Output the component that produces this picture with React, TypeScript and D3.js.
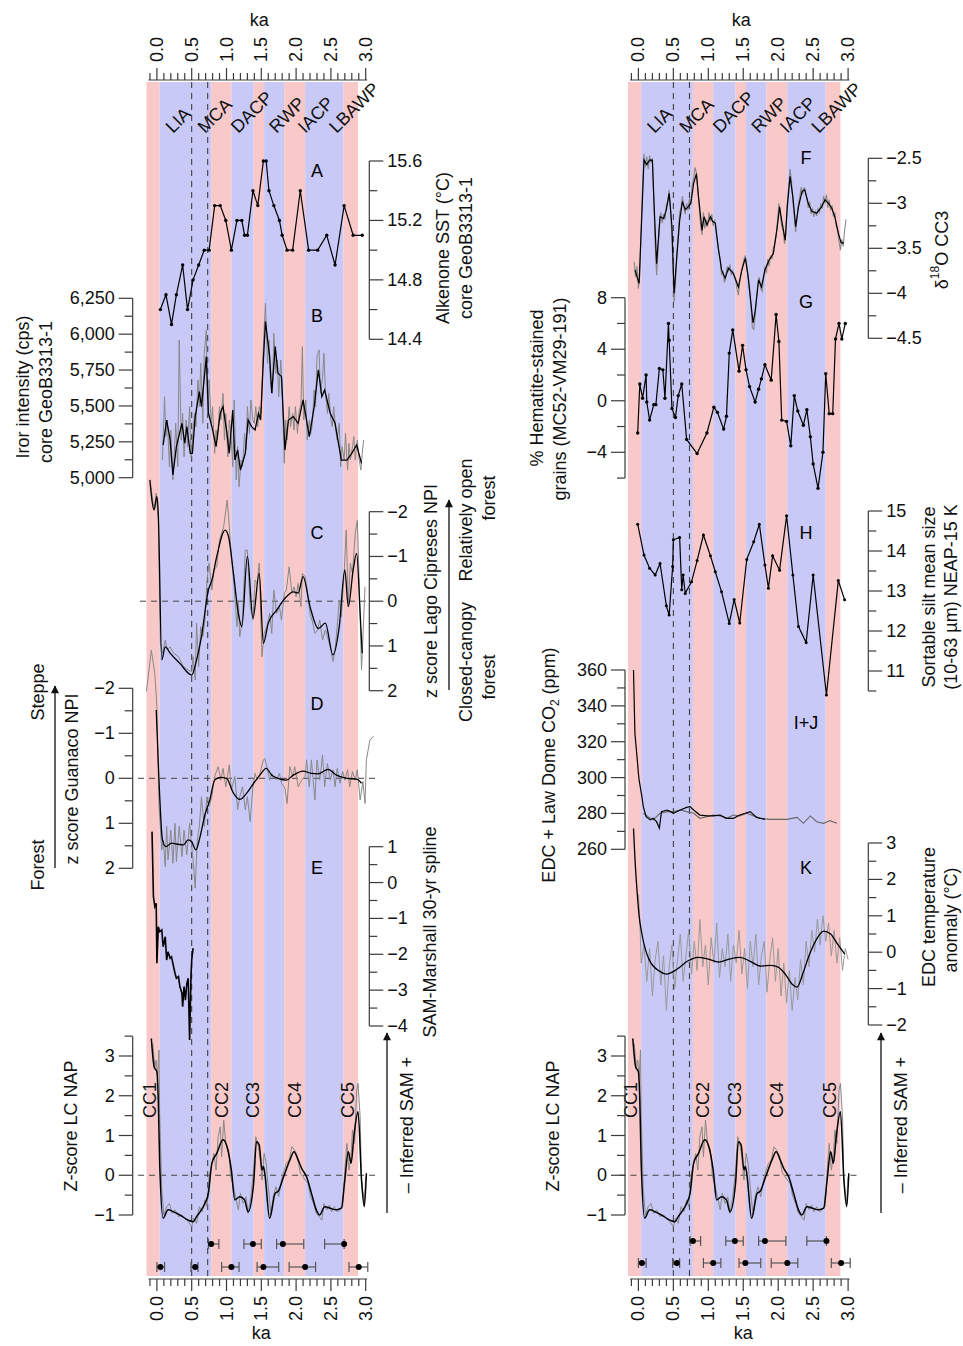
import React from 'react';
import * as d3 from 'd3';

type P = [number, number];

const FONT = "'Liberation Sans', Arial, Helvetica, sans-serif";
const AX = '#3a3a3a';
const GRAY = '#888888';
const PINK = '#f9c9ca';
const BLUE = '#c9c9f8';

// ---- shared time axis / periods ----
const bandEdges = [-0.15, 0.04, 0.78, 1.07, 1.39, 1.54, 1.83, 2.13, 2.68, 2.89];
const bandColors = [PINK, BLUE, PINK, BLUE, PINK, BLUE, PINK, BLUE, PINK];
const periodNames = ['LIA', 'MCA', 'DACP', 'RWP', 'IACP', 'LBAWP'];
const periodKa = [0.23, 0.69, 1.17, 1.72, 2.13, 2.58];
const dashedKa = [0.5, 0.73];
const kaTickValues = [0, 0.5, 1, 1.5, 2, 2.5, 3];
const kaTickLabels = ['0.0', '0.5', '1.0', '1.5', '2.0', '2.5', '3.0'];
const ccNames = ['CC1', 'CC2', 'CC3', 'CC4', 'CC5'];
const ccKa = [-0.1, 0.93, 1.38, 1.98, 2.74];

// age error bars
const age1Ka = [0.78, 1.38, 1.81, 2.69];
const age1Lo = [0.74, 1.25, 1.72, 2.41];
const age1Hi = [0.89, 1.5, 2.11, 2.69];
const age2Ka = [0.05, 0.55, 1.07, 1.53, 2.13, 2.9];
const age2Lo = [0.0, 0.49, 0.93, 1.44, 1.9, 2.76];
const age2Hi = [0.11, 0.59, 1.18, 1.75, 2.28, 3.03];

// ---- A: Alkenone SST ----
const sstKa = [0.05,0.13,0.21,0.28,0.37,0.44,0.52,0.60,0.68,0.75,0.83,0.91,0.99,1.07,1.15,1.22,1.26,1.30,1.38,1.45,1.53,1.57,1.61,1.68,1.76,1.80,1.87,1.95,2.06,2.18,2.31,2.44,2.56,2.69,2.82,2.95];
const sstVal = [14.6,14.7,14.5,14.7,14.9,14.6,14.8,14.9,15.0,15.0,15.3,15.3,15.2,15.0,15.2,15.2,15.1,15.1,15.4,15.3,15.6,15.6,15.4,15.3,15.2,15.1,15.0,15.0,15.4,15.0,15.0,15.1,14.9,15.3,15.1,15.1];

// ---- B: Iron intensity ----
const feKa = [0.09,0.14,0.19,0.23,0.28,0.36,0.40,0.43,0.48,0.51,0.55,0.61,0.64,0.71,0.74,0.79,0.85,0.91,0.95,1.00,1.04,1.09,1.12,1.16,1.20,1.27,1.31,1.36,1.41,1.46,1.49,1.53,1.56,1.62,1.65,1.70,1.74,1.79,1.84,1.89,1.96,2.03,2.10,2.19,2.26,2.32,2.37,2.41,2.49,2.56,2.65,2.73,2.80,2.87,2.94];
const feVal = [5228,5402,5263,5019,5216,5379,5240,5356,5170,5170,5425,5600,5495,5844,5449,5356,5216,5449,5495,5333,5170,5472,5123,5193,5054,5170,5402,5356,5333,5449,5402,5821,6088,5844,5588,5914,5728,5704,5193,5402,5425,5379,5542,5286,5495,5751,5565,5611,5449,5379,5123,5123,5170,5228,5100];
const feRaw: P[] = [[0.08,5123],[0.11,5564],[0.13,5286],[0.15,5402],[0.18,5077],[0.20,5332],[0.23,4984],[0.25,5170],[0.27,5379],[0.30,5077],[0.32,5959],[0.35,5262],[0.37,5448],[0.39,5146],[0.42,5402],[0.44,5216],[0.47,5495],[0.49,5146],[0.51,5262],[0.54,5448],[0.56,5355],[0.59,5681],[0.61,5495],[0.63,5797],[0.66,5379],[0.68,5866],[0.71,6029],[0.73,5448],[0.75,5681],[0.78,5379],[0.80,5495],[0.83,5170],[0.85,5332],[0.87,5262],[0.90,5495],[0.92,5402],[0.95,5588],[0.97,5262],[0.99,5448],[1.02,5146],[1.04,5402],[1.07,5262],[1.09,5077],[1.11,5541],[1.14,4984],[1.16,5216],[1.18,4937],[1.21,5123],[1.23,5077],[1.26,5309],[1.28,5193],[1.30,5495],[1.33,5309],[1.35,5541],[1.38,5402],[1.40,5379],[1.42,5495],[1.45,5355],[1.47,5495],[1.50,5448],[1.52,5797],[1.54,6029],[1.56,6215],[1.59,5797],[1.61,5959],[1.63,5681],[1.66,5588],[1.68,6006],[1.71,5727],[1.73,5820],[1.75,5564],[1.78,5820],[1.80,5611],[1.83,5100],[1.85,5402],[1.87,5262],[1.90,5495],[1.92,5355],[1.95,5448],[1.97,5332],[1.99,5495],[2.02,5309],[2.04,5448],[2.07,5518],[2.09,5913],[2.11,5402],[2.14,5541],[2.16,5262],[2.19,5402],[2.21,5309],[2.23,5355],[2.26,5611],[2.28,5495],[2.30,5843],[2.33,5890],[2.35,5588],[2.38,5704],[2.40,5866],[2.42,5611],[2.45,5448],[2.47,5588],[2.50,5402],[2.52,5355],[2.54,5495],[2.57,5332],[2.59,5262],[2.62,5379],[2.64,5077],[2.66,5216],[2.69,5123],[2.71,5309],[2.74,5053],[2.76,5239],[2.78,5123],[2.81,5216],[2.83,5286],[2.85,5123],[2.88,5262],[2.90,5146],[2.93,5053],[2.95,5170],[2.97,5262]];

// ---- C: Lago Cipreses NPI ----
const npiCKa = [-0.10,-0.08,-0.04,0.00,0.02,0.07,0.12,0.19,0.33,0.50,0.57,0.64,0.74,0.79,0.86,0.98,1.03,1.10,1.17,1.22,1.30,1.38,1.47,1.53,1.60,1.72,1.86,1.96,2.03,2.10,2.20,2.32,2.42,2.53,2.62,2.70,2.75,2.82,2.87,2.92,2.95];
const npiCVal = [-2.71,-2.37,-2.04,-2.34,-1.96,1.31,1.02,1.16,1.39,1.65,1.31,0.79,-0.25,-0.47,-1.0,-1.59,-1.44,-0.62,0.27,0.57,-1.0,0.38,-0.62,0.94,0.49,0.2,-0.1,-0.21,-0.18,-0.55,0.12,0.61,0.49,1.2,0.57,-0.7,0.12,-0.7,-1.07,0.27,1.16];
const npiCRaw: P[] = [[-0.09,-2.6],[-0.06,-2.26],[-0.04,-2.04],[-0.01,-2.41],[0.02,-1.81],[0.05,0.94],[0.08,1.16],[0.12,0.87],[0.15,1.09],[0.19,1.02],[0.24,1.16],[0.31,1.24],[0.38,1.46],[0.45,1.54],[0.50,1.57],[0.52,1.24],[0.55,1.76],[0.57,0.49],[0.60,1.46],[0.63,0.57],[0.66,0.79],[0.69,0.42],[0.72,-0.47],[0.75,-0.85],[0.79,-0.25],[0.82,-0.7],[0.86,-0.77],[0.90,-1.37],[0.93,-1.52],[0.96,-1.67],[1.01,-2.26],[1.04,-1.67],[1.07,-1.0],[1.11,-0.32],[1.15,0.57],[1.17,-0.03],[1.19,0.79],[1.23,0.42],[1.27,-1.14],[1.30,-1.14],[1.34,0.12],[1.38,0.42],[1.41,-0.47],[1.44,-0.4],[1.47,-0.85],[1.51,1.24],[1.54,0.72],[1.58,0.57],[1.62,0.27],[1.65,0.72],[1.68,-0.25],[1.72,0.27],[1.76,0.12],[1.79,0.42],[1.83,-0.18],[1.86,-0.25],[1.90,-0.77],[1.94,-0.18],[1.97,-0.32],[2.00,-0.1],[2.03,-0.4],[2.07,0.12],[2.09,-0.62],[2.13,-0.55],[2.16,-0.25],[2.20,0.27],[2.24,0.49],[2.27,0.72],[2.31,0.64],[2.34,0.42],[2.38,0.87],[2.42,0.64],[2.45,0.79],[2.49,1.02],[2.53,1.35],[2.56,1.09],[2.59,0.57],[2.62,-0.03],[2.65,0.35],[2.69,-0.62],[2.72,-1.59],[2.75,0.05],[2.78,-0.85],[2.81,-0.62],[2.85,-1.52],[2.88,-1.81],[2.91,-0.25],[2.94,1.54],[2.99,-0.32]];

// ---- D: Guanaco NPI ----
const npiDKa = [-0.01,0.03,0.08,0.13,0.21,0.28,0.38,0.45,0.50,0.56,0.62,0.69,0.76,0.83,0.91,1.00,1.10,1.19,1.29,1.39,1.48,1.57,1.65,1.74,1.86,1.96,2.10,2.22,2.32,2.46,2.58,2.73,2.87,2.94];
const npiDVal = [-1.52,0.04,1.37,1.52,1.44,1.46,1.48,1.37,1.41,1.59,1.3,0.81,0.48,0.04,-0.02,0.0,0.33,0.47,0.33,0.11,-0.07,-0.22,-0.07,0.0,0.04,-0.07,-0.16,-0.11,-0.1,-0.2,-0.07,0.0,0.02,0.11];
const npiDRaw: P[] = [[-0.15,-1.93],[-0.08,-2.85],[-0.03,-2.33],[0.00,-1.59],[0.03,0.63],[0.07,1.59],[0.09,1.37],[0.12,1.96],[0.14,1.07],[0.16,1.81],[0.20,1.15],[0.23,1.89],[0.26,1.0],[0.28,1.85],[0.32,1.07],[0.36,1.74],[0.39,1.15],[0.43,1.7],[0.47,1.0],[0.50,1.52],[0.52,1.81],[0.55,2.44],[0.58,1.37],[0.61,1.07],[0.64,0.41],[0.68,1.07],[0.72,0.41],[0.75,0.63],[0.79,0.41],[0.83,-0.04],[0.88,-0.26],[0.92,0.04],[0.95,-0.22],[0.99,0.19],[1.04,-0.3],[1.07,0.26],[1.12,-0.04],[1.16,0.7],[1.19,0.41],[1.23,0.19],[1.27,0.7],[1.30,0.41],[1.34,0.96],[1.38,0.19],[1.41,-0.11],[1.44,0.04],[1.48,-0.11],[1.53,-0.41],[1.55,-0.44],[1.58,-0.26],[1.62,0.04],[1.65,-0.11],[1.68,-0.04],[1.72,0.04],[1.76,-0.11],[1.79,0.11],[1.84,0.22],[1.87,0.56],[1.91,-0.26],[1.95,-0.04],[1.98,-0.26],[2.03,0.19],[2.08,0.04],[2.13,-0.04],[2.15,-0.41],[2.19,0.19],[2.22,-0.41],[2.27,0.48],[2.30,-0.41],[2.34,0.04],[2.38,-0.52],[2.41,0.19],[2.45,-0.33],[2.49,0.04],[2.53,-0.19],[2.56,0.19],[2.59,-0.22],[2.63,0.11],[2.67,-0.15],[2.70,0.04],[2.74,-0.19],[2.77,0.19],[2.81,-0.15],[2.85,0.04],[2.88,-0.19],[2.92,0.48],[2.96,0.07],[2.99,0.56],[3.01,-0.41],[3.06,-0.85],[3.11,-0.93]];

// ---- E: SAM-Marshall ----
const samKa = [-0.07,-0.05,-0.03,-0.01,0.00,0.02,0.04,0.07,0.09,0.12,0.14,0.16,0.19,0.21,0.24,0.26,0.28,0.31,0.33,0.36,0.37,0.39,0.41,0.43,0.45,0.47,0.49,0.50,0.52];
const samVal = [1.42,-0.39,-0.67,-0.58,-2.25,-1.23,-1.37,-1.32,-1.79,-1.51,-2.16,-1.93,-2.11,-2.07,-2.35,-2.53,-2.67,-2.62,-2.9,-3.09,-3.46,-2.9,-3.28,-2.81,-2.67,-4.39,-2.62,-2.16,-1.83];

// ---- LC NAP (both panels) ----
const lcKa = [-0.08,-0.04,0.00,0.02,0.04,0.09,0.16,0.24,0.33,0.45,0.52,0.57,0.62,0.69,0.74,0.79,0.86,0.95,1.00,1.07,1.12,1.19,1.26,1.31,1.39,1.43,1.47,1.51,1.53,1.55,1.62,1.70,1.74,1.82,1.91,1.97,2.03,2.08,2.15,2.22,2.29,2.34,2.41,2.49,2.58,2.65,2.70,2.75,2.79,2.83,2.89,2.94,2.98,3.01];
const lcVal = [3.44,2.73,2.6,1.89,0.3,-1.08,-0.87,-0.92,-1.0,-1.13,-1.17,-1.04,-0.92,-0.71,-0.45,0.3,0.55,0.89,0.76,0.13,-0.62,-0.54,-0.62,-0.92,-0.2,0.84,0.76,0.13,0.22,0.05,-1.08,-0.45,-0.41,-0.04,0.38,0.59,0.38,0.17,-0.04,-0.45,-0.87,-1.0,-0.79,-0.83,-0.87,-0.83,-0.12,0.59,0.3,0.97,1.6,-0.12,-0.79,0.05];
const lcRaw: P[] = [[-0.06,3.32],[-0.03,2.73],[-0.01,2.9],[0.01,2.48],[0.03,3.15],[0.04,1.56],[0.07,-0.37],[0.10,-1.0],[0.14,-0.79],[0.18,-0.71],[0.22,-0.96],[0.26,-0.87],[0.31,-1.04],[0.36,-1.0],[0.40,-1.08],[0.45,-1.17],[0.50,-1.29],[0.53,-1.08],[0.57,-1.21],[0.61,-0.79],[0.65,-0.92],[0.69,-0.62],[0.72,-0.79],[0.75,-0.04],[0.79,0.3],[0.82,0.55],[0.85,0.13],[0.88,0.97],[0.91,1.22],[0.93,0.47],[0.96,1.39],[0.99,0.8],[1.03,0.63],[1.06,-0.04],[1.10,-0.29],[1.13,-0.54],[1.17,-0.87],[1.20,-0.45],[1.24,-0.71],[1.28,-0.54],[1.31,-0.96],[1.35,-0.54],[1.39,0.13],[1.42,0.97],[1.45,0.8],[1.48,0.47],[1.51,-0.12],[1.54,0.55],[1.57,0.3],[1.60,-0.29],[1.64,-1.0],[1.67,-0.54],[1.71,-0.29],[1.75,-0.54],[1.79,-0.12],[1.83,0.13],[1.86,0.3],[1.90,0.38],[1.94,0.72],[1.98,0.63],[2.02,0.47],[2.06,0.05],[2.10,-0.04],[2.13,-0.12],[2.17,-0.2],[2.21,-0.54],[2.25,-0.71],[2.29,-0.96],[2.33,-1.04],[2.37,-1.13],[2.40,-0.71],[2.44,-0.87],[2.48,-0.75],[2.51,-0.92],[2.55,-0.79],[2.59,-0.92],[2.63,-0.87],[2.67,-0.79],[2.70,0.13],[2.73,0.8],[2.76,0.13],[2.79,0.47],[2.81,1.14],[2.84,0.8],[2.87,2.14],[2.89,2.31],[2.92,1.47],[2.94,-0.12],[2.98,-0.71],[3.00,-0.04]];

// ---- F: d18O CC3 ----
const d18Ka = [-0.05,0.01,0.05,0.08,0.12,0.16,0.20,0.22,0.26,0.31,0.36,0.40,0.44,0.48,0.51,0.55,0.59,0.63,0.67,0.71,0.75,0.79,0.83,0.86,0.91,0.94,0.98,1.03,1.06,1.10,1.14,1.19,1.24,1.29,1.36,1.43,1.48,1.53,1.57,1.64,1.67,1.72,1.76,1.81,1.87,1.93,1.98,2.02,2.05,2.10,2.13,2.17,2.21,2.25,2.29,2.34,2.38,2.43,2.48,2.55,2.62,2.67,2.72,2.77,2.81,2.86,2.90,2.94];
const d18Val = [-3.74,-3.89,-3.11,-2.52,-2.57,-2.52,-2.52,-2.93,-3.67,-3.15,-3.17,-3.07,-2.89,-3.26,-4.0,-3.59,-3.19,-2.98,-3.07,-3.04,-3.0,-2.78,-2.67,-2.93,-3.3,-3.15,-3.24,-3.15,-3.2,-3.22,-3.48,-3.74,-3.83,-3.72,-3.78,-3.93,-3.74,-3.61,-3.81,-4.33,-4.2,-3.85,-3.93,-3.74,-3.63,-3.56,-3.3,-3.04,-3.19,-3.41,-3.04,-2.7,-2.93,-3.26,-3.04,-2.87,-2.85,-3.0,-3.09,-3.11,-3.04,-2.96,-3.0,-3.06,-3.15,-3.33,-3.44,-3.44];
const d18Raw: P[] = [[-0.06,-3.65],[-0.04,-3.82],[-0.02,-3.7],[0.0,-3.95],[0.02,-3.8],[0.04,-3.25],[0.06,-2.8],[0.08,-2.45],[0.10,-2.6],[0.12,-2.48],[0.14,-2.62],[0.16,-2.47],[0.18,-2.55],[0.20,-2.5],[0.22,-2.95],[0.24,-3.45],[0.26,-3.8],[0.28,-3.55],[0.30,-3.25],[0.32,-3.1],[0.34,-3.22],[0.36,-3.12],[0.38,-3.18],[0.40,-3.02],[0.42,-2.98],[0.44,-2.85],[0.46,-3.05],[0.48,-3.4],[0.50,-3.85],[0.51,-4.1],[0.53,-3.9],[0.55,-3.55],[0.57,-3.35],[0.59,-3.1],[0.61,-3.05],[0.63,-2.92],[0.65,-3.05],[0.67,-3.12],[0.69,-3.0],[0.71,-3.08],[0.73,-2.95],[0.75,-3.02],[0.77,-2.8],[0.79,-2.72],[0.81,-2.6],[0.83,-2.66],[0.85,-2.85],[0.87,-3.05],[0.89,-3.25],[0.91,-3.35],[0.93,-3.1],[0.95,-3.28],[0.97,-3.18],[0.99,-3.26],[1.01,-3.1],[1.03,-3.2],[1.05,-3.12],[1.07,-3.25],[1.09,-3.18],[1.11,-3.3],[1.13,-3.42],[1.15,-3.55],[1.17,-3.62],[1.19,-3.8],[1.21,-3.75],[1.23,-3.88],[1.25,-3.82],[1.27,-3.7],[1.29,-3.76],[1.31,-3.68],[1.33,-3.8],[1.35,-3.75],[1.37,-3.82],[1.39,-3.85],[1.41,-3.95],[1.43,-4.02],[1.45,-3.88],[1.47,-3.78],[1.49,-3.7],[1.51,-3.62],[1.53,-3.58],[1.55,-3.7],[1.57,-3.85],[1.59,-3.98],[1.61,-4.15],[1.63,-4.38],[1.65,-4.4],[1.67,-4.25],[1.69,-4.05],[1.71,-3.88],[1.73,-3.82],[1.75,-3.95],[1.77,-3.98],[1.79,-3.85],[1.81,-3.7],[1.83,-3.78],[1.85,-3.62],[1.87,-3.7],[1.89,-3.58],[1.91,-3.62],[1.93,-3.5],[1.95,-3.45],[1.97,-3.35],[1.99,-3.2],[2.01,-3.0],[2.03,-3.12],[2.05,-3.25],[2.07,-3.3],[2.09,-3.45],[2.11,-3.35],[2.13,-3.0],[2.15,-2.8],[2.17,-2.62],[2.19,-2.75],[2.21,-2.98],[2.23,-3.15],[2.25,-3.32],[2.27,-3.15],[2.29,-3.0],[2.31,-2.92],[2.33,-2.82],[2.35,-2.9],[2.37,-2.82],[2.39,-2.88],[2.41,-2.95],[2.43,-3.05],[2.45,-2.98],[2.47,-3.12],[2.49,-3.05],[2.51,-3.15],[2.53,-3.08],[2.55,-3.14],[2.57,-3.06],[2.59,-3.1],[2.61,-3.0],[2.63,-3.06],[2.65,-2.92],[2.67,-3.0],[2.69,-2.9],[2.71,-3.05],[2.73,-2.96],[2.75,-3.08],[2.77,-3.02],[2.79,-3.15],[2.81,-3.1],[2.83,-3.25],[2.85,-3.3],[2.87,-3.42],[2.89,-3.52],[2.91,-3.4],[2.93,-3.48],[2.95,-3.3],[2.97,-3.18]];

// ---- G: % hematite-stained grains ----
const hemKa = [-0.01,0.02,0.06,0.11,0.12,0.16,0.22,0.25,0.30,0.35,0.38,0.43,0.44,0.48,0.53,0.57,0.62,0.69,0.84,0.98,1.08,1.13,1.22,1.26,1.30,1.35,1.44,1.49,1.54,1.59,1.67,1.72,1.76,1.81,1.90,1.97,2.01,2.05,2.12,2.18,2.23,2.28,2.36,2.41,2.46,2.50,2.57,2.64,2.68,2.73,2.78,2.82,2.87,2.91,2.96];
const hemVal = [-2.5,1.3,0.2,2.0,-0.1,-1.5,-0.3,-0.3,2.5,2.4,0.2,6.0,4.7,-0.6,-1.3,0.4,1.3,-3.0,-4.1,-2.5,-0.5,-0.9,-2.2,-1.2,3.7,5.5,2.3,4.3,2.4,1.1,-0.1,0.9,1.7,2.8,1.6,6.7,4.6,-1.5,-1.6,-3.5,0.4,-0.8,-1.9,-0.7,-2.8,-4.9,-6.8,-4.0,2.1,-1.0,-1.0,4.8,6.0,4.8,6.0];

// ---- H: sortable silt ----
const siltKa = [-0.01,0.08,0.16,0.24,0.31,0.40,0.44,0.49,0.50,0.59,0.62,0.64,0.67,0.76,0.84,0.93,1.03,1.10,1.19,1.30,1.37,1.45,1.55,1.65,1.73,1.81,1.86,1.92,2.02,2.12,2.21,2.29,2.40,2.50,2.69,2.86,2.95];
const siltVal = [14.67,13.9,13.57,13.4,13.69,12.63,12.4,13.61,14.28,14.34,13.03,13.4,12.94,13.23,13.76,14.4,13.88,13.48,12.98,12.19,12.79,12.2,13.79,14.23,14.67,13.65,13.07,13.88,13.52,14.88,13.4,12.11,11.71,13.4,10.4,13.26,12.78];

// ---- I+J: CO2 ----
const co2LawKa = [-0.07,-0.05,-0.02,0.00,0.01,0.05,0.07,0.11,0.17,0.21,0.26,0.30,0.33,0.41,0.46,0.50,0.60,0.69,0.74,0.79,0.88,0.98,1.07,1.17,1.26,1.36,1.45,1.60,1.69,1.81];
const co2LawVal = [360,324.7,311.7,302.4,298.7,289.4,283.8,278.2,276.4,277.3,275.4,271.7,281.0,281.9,281.0,280.1,281.9,283.4,283.8,281.9,279.1,278.6,278.6,279.1,277.3,277.3,279.1,281.0,277.8,276.7];
const co2Edc: P[] = [[0.07,280.1],[0.14,278.2],[0.21,276.4],[0.31,280.1],[0.41,281.0],[0.50,281.0],[0.60,281.9],[0.69,281.0],[0.79,280.1],[0.88,277.3],[0.98,278.2],[1.07,279.1],[1.17,278.6],[1.26,277.3],[1.36,279.1],[1.45,278.6],[1.55,280.1],[1.65,278.6],[1.74,277.3],[1.88,276.7],[2.12,276.7],[2.27,277.8],[2.36,274.5],[2.46,278.6],[2.55,275.4],[2.65,274.5],[2.74,276.0],[2.84,274.5]];

// ---- K: EDC temperature ----
const edcKa = [-0.07,-0.05,-0.02,0.01,0.05,0.15,0.30,0.40,0.55,0.70,0.85,1.00,1.15,1.30,1.45,1.60,1.75,1.90,2.00,2.10,2.20,2.27,2.35,2.45,2.55,2.65,2.75,2.85,2.95];
const edcVal = [3.4,2.6,1.7,1.0,0.5,-0.19,-0.52,-0.6,-0.47,-0.25,-0.14,-0.19,-0.27,-0.19,-0.14,-0.25,-0.38,-0.36,-0.41,-0.6,-0.88,-0.96,-0.6,-0.05,0.36,0.58,0.5,0.22,-0.05];
const edcRaw: P[] = [[0.0,1.6],[0.02,0.9],[0.04,-0.3],[0.08,0.2],[0.12,-0.8],[0.16,0.1],[0.20,-1.2],[0.24,-0.2],[0.28,0.3],[0.32,-0.9],[0.36,-0.1],[0.40,-1.6],[0.44,-0.4],[0.48,0.2],[0.52,-1.0],[0.56,-0.2],[0.60,0.5],[0.64,-0.8],[0.68,-0.1],[0.72,0.6],[0.76,-0.6],[0.80,0.3],[0.84,-0.5],[0.88,0.9],[0.92,-0.4],[0.96,0.2],[1.00,-0.9],[1.04,0.4],[1.08,-0.3],[1.12,0.8],[1.16,-0.7],[1.20,0.1],[1.24,-0.4],[1.28,0.5],[1.32,-0.8],[1.36,0.2],[1.40,-0.3],[1.44,0.6],[1.48,-0.6],[1.52,0.1],[1.56,-1.0],[1.60,0.3],[1.64,-0.4],[1.68,0.5],[1.72,-0.9],[1.76,-0.1],[1.80,0.3],[1.84,-1.1],[1.88,-0.2],[1.92,0.4],[1.96,-0.8],[2.00,0.1],[2.04,-1.2],[2.08,-0.3],[2.12,-1.4],[2.16,-0.5],[2.20,-1.6],[2.24,-0.7],[2.28,-1.3],[2.32,-0.2],[2.36,-0.9],[2.40,0.3],[2.44,-0.4],[2.48,0.6],[2.52,0.0],[2.56,0.9],[2.60,0.2],[2.64,1.0],[2.68,0.3],[2.72,0.8],[2.76,-0.1],[2.80,0.6],[2.84,-0.3],[2.88,0.4],[2.92,-0.5],[2.96,0.1],[3.00,-0.2]];

// ---- axis ticks / labels ----
const sstMajor = [14.4, 14.8, 15.2, 15.6];
const sstLabels = ['14.4', '14.8', '15.2', '15.6'];
const feMajor = [5000, 5250, 5500, 5750, 6000, 6250];
const feLabels = ['5,000', '5,250', '5,500', '5,750', '6,000', '6,250'];
const npiMajor = [-2, -1, 0, 1, 2];
const npiLabels = ['\u22122', '\u22121', '0', '1', '2'];
const samMajor = [-4, -3, -2, -1, 0, 1];
const samLabels = ['\u22124', '\u22123', '\u22122', '\u22121', '0', '1'];
const lcMajor = [-1, 0, 1, 2, 3];
const lcLabels = ['\u22121', '0', '1', '2', '3'];
const d18Major = [-4.5, -4, -3.5, -3, -2.5];
const d18Labels = ['\u22124.5', '\u22124', '\u22123.5', '\u22123', '\u22122.5'];
const hemMajor = [-4, 0, 4, 8];
const hemLabels = ['\u22124', '0', '4', '8'];
const siltMajor = [11, 12, 13, 14, 15];
const siltLabels = ['11', '12', '13', '14', '15'];
const co2Major = [260, 280, 300, 320, 340, 360];
const co2Labels = ['260', '280', '300', '320', '340', '360'];
const edcMajor = [-2, -1, 0, 1, 2, 3];
const edcLabels = ['\u22122', '\u22121', '0', '1', '2', '3'];

type Scale = d3.ScaleLinear<number, number>;

const zip = (k: number[], v: number[]): P[] => k.slice(0, Math.min(k.length, v.length)).map((x, i) => [x, v[i]] as P);
const linePath = (pts: P[], xs: Scale, ys: Scale, curve?: any) => {
  const g = d3.line<P>().x((d) => xs(d[0])).y((d) => ys(d[1]));
  if (curve) g.curve(curve);
  return g(pts) || '';
};

function VAxis(props: { x: number; side: 'left' | 'right'; y: Scale; lo: number; hi: number; step: number; major: number[]; labels: string[] }) {
  const { x, side, y, lo, hi, step, major, labels } = props;
  const dir = side === 'left' ? -1 : 1;
  const n = Math.round((hi - lo) / step);
  const all = d3.range(n + 1).map((i) => lo + i * step);
  const minor = all.filter((t) => !major.some((m) => Math.abs(m - t) < 1e-6));
  return (
    <g>
      <line x1={x} x2={x} y1={y(lo)} y2={y(hi)} stroke={AX} strokeWidth={1.2} />
      {minor.map((t, i) => (
        <line key={'m' + i} x1={x} x2={x + dir * 8} y1={y(t)} y2={y(t)} stroke={AX} strokeWidth={1.2} />
      ))}
      {major.map((t, i) => (
        <line key={'M' + i} x1={x} x2={x + dir * 14} y1={y(t)} y2={y(t)} stroke={AX} strokeWidth={1.2} />
      ))}
      {major.map((t, i) => (
        <text key={'l' + i} x={x + dir * 18} y={y(t)} textAnchor={dir < 0 ? 'end' : 'start'} dominantBaseline="central" fontSize={18} fill="#111">
          {labels[i]}
        </text>
      ))}
    </g>
  );
}

function VText(props: { x: number; y: number; children: any; size?: number }) {
  return (
    <text transform={`translate(${props.x},${props.y}) rotate(-90)`} textAnchor="middle" dominantBaseline="central" fontSize={props.size || 18} fill="#111">
      {props.children}
    </text>
  );
}

function Arrow(props: { x: number; y1: number; y2: number }) {
  return <line x1={props.x} x2={props.x} y1={props.y1} y2={props.y2} stroke="#111" strokeWidth={1.3} markerEnd="url(#arrowHead)" />;
}

function KaAxis(props: { xs: Scale; y: number; dir: number; labelY: number; top: boolean }) {
  const { xs, y, dir, labelY, top } = props;
  const ticks = d3.range(-1, 31);
  return (
    <g>
      <line x1={xs(-0.12)} x2={xs(3.02)} y1={y} y2={y} stroke={AX} strokeWidth={1.2} />
      {ticks.map((i) => {
        const major = i >= 0 && i % 5 === 0;
        return <line key={i} x1={xs(i / 10)} x2={xs(i / 10)} y1={y} y2={y + dir * (major ? 12 : 7)} stroke={AX} strokeWidth={1.2} />;
      })}
      {kaTickValues.map((v, i) => (
        <text key={'t' + i} transform={`translate(${xs(v)},${labelY}) rotate(-90)`} textAnchor={top ? 'start' : 'end'} dominantBaseline="central" fontSize={18} fill="#111">
          {kaTickLabels[i]}
        </text>
      ))}
    </g>
  );
}

function Frame(props: { xs: Scale; axL: number; err1: number; err2: number; lcTitleX: number; samArrowX: number; samTextX: number }) {
  const { xs, axL, err1, err2, lcTitleX, samArrowX, samTextX } = props;
  const yLC = d3.scaleLinear().domain([-1, 3]).range([1215, 1056]);
  const errRow = (c: number[], lo: number[], hi: number[], y: number, key: string) =>
    c.map((k, i) => (
      <g key={key + i}>
        <line x1={xs(lo[i])} x2={xs(hi[i])} y1={y} y2={y} stroke="#555" strokeWidth={1.2} />
        <line x1={xs(lo[i])} x2={xs(lo[i])} y1={y - 5} y2={y + 5} stroke="#555" strokeWidth={1.2} />
        <line x1={xs(hi[i])} x2={xs(hi[i])} y1={y - 5} y2={y + 5} stroke="#555" strokeWidth={1.2} />
        <circle cx={xs(k)} cy={y} r={3} fill="#000" />
      </g>
    ));
  return (
    <g>
      {bandColors.map((c, i) => (
        <rect key={'b' + i} x={xs(bandEdges[i])} y={82} width={xs(bandEdges[i + 1]) - xs(bandEdges[i])} height={1194} fill={c} />
      ))}
      {dashedKa.map((k, i) => (
        <line key={'dv' + i} x1={xs(k)} x2={xs(k)} y1={82} y2={1276} stroke="#333" strokeWidth={1} strokeDasharray="6,5" />
      ))}
      {periodNames.map((n, i) => (
        <text key={'p' + i} transform={`translate(${xs(periodKa[i])},134) rotate(-45)`} fontSize={18} fill="#111">
          {n}
        </text>
      ))}
      <KaAxis xs={xs} y={80} dir={-1} labelY={62} top={true} />
      <KaAxis xs={xs} y={1279} dir={1} labelY={1296} top={false} />
      <text x={xs(1.47)} y={20} textAnchor="middle" dominantBaseline="central" fontSize={18} fill="#111">ka</text>
      <text x={xs(1.5)} y={1333} textAnchor="middle" dominantBaseline="central" fontSize={18} fill="#111">ka</text>
      {errRow(age1Ka, age1Lo, age1Hi, err1, 'e1')}
      {errRow(age2Ka, age2Lo, age2Hi, err2, 'e2')}
      {/* LC NAP */}
      <line x1={xs(-0.27)} x2={xs(3.17)} y1={yLC(0)} y2={yLC(0)} stroke="#444" strokeWidth={1} strokeDasharray="6,5" />
      <path d={linePath(lcRaw, xs, yLC)} fill="none" stroke={GRAY} strokeWidth={1} />
      <path d={linePath(zip(lcKa, lcVal), xs, yLC, d3.curveMonotoneX)} fill="none" stroke="#000" strokeWidth={1.5} />
      {ccNames.map((n, i) => (
        <VText key={'cc' + i} x={xs(ccKa[i])} y={1100}>{n}</VText>
      ))}
      <VAxis x={axL} side="left" y={yLC} lo={-1} hi={3.5} step={0.5} major={lcMajor} labels={lcLabels} />
      <VText x={lcTitleX} y={1126}>Z-score LC NAP</VText>
      <Arrow x={samArrowX} y1={1213} y2={1033} />
      <VText x={samTextX} y={1125}>{'\u2013 Inferred SAM +'}</VText>
    </g>
  );
}

export default function App() {
  const xL = d3.scaleLinear().domain([0, 3]).range([156.9, 365.7]);
  const xR = d3.scaleLinear().domain([0, 3]).range([638.4, 848.1]);

  const yA = d3.scaleLinear().domain([14.4, 15.6]).range([339.3, 161]);
  const yB = d3.scaleLinear().domain([5000, 6250]).range([477.7, 298.3]);
  const yC = d3.scaleLinear().domain([-2, 2]).range([511.7, 690.7]);
  const yD = d3.scaleLinear().domain([-2, 2]).range([688.3, 868.3]);
  const yE = d3.scaleLinear().domain([-4, 1]).range([1026, 846.7]);
  const yF = d3.scaleLinear().domain([-4.5, -2.5]).range([338.3, 158.3]);
  const yG = d3.scaleLinear().domain([-4, 8]).range([452.3, 297.7]);
  const yH = d3.scaleLinear().domain([11, 15]).range([671, 511]);
  const yIJ = d3.scaleLinear().domain([260, 360]).range([849.3, 670]);
  const yK = d3.scaleLinear().domain([-2, 3]).range([1025, 843]);

  const axLL = 132.7, axLR = 369.3, axRL = 625, axRR = 868.3;

  const sstPts = zip(sstKa, sstVal);
  const hemPts = zip(hemKa, hemVal);
  const siltPts = zip(siltKa, siltVal);

  return (
    <svg width={963} height={1346} style={{ position: 'absolute', left: 0, top: 0, fontFamily: FONT, background: '#fff' }}>
      <defs>
        <marker id="arrowHead" viewBox="0 0 10 10" refX="9" refY="5" markerUnits="userSpaceOnUse" markerWidth="12" markerHeight="8" orient="auto">
          <path d="M0,0 L10,5 L0,10 z" fill="#111" />
        </marker>
      </defs>
      <rect x={0} y={0} width={963} height={1346} fill="#fff" />

      {/* ================= LEFT PANEL ================= */}
      <Frame xs={xL} axL={axLL} err1={1244} err2={1267} lcTitleX={71} samArrowX={387} samTextX={407} />

      {/* A */}
      <path d={linePath(sstPts, xL, yA)} fill="none" stroke="#000" strokeWidth={1.2} />
      {sstPts.map((d, i) => <circle key={'a' + i} cx={xL(d[0])} cy={yA(d[1])} r={1.7} fill="#000" />)}
      <VAxis x={axLR} side="right" y={yA} lo={14.4} hi={15.6} step={0.2} major={sstMajor} labels={sstLabels} />
      <text x={317} y={171} textAnchor="middle" dominantBaseline="central" fontSize={18}>A</text>
      <VText x={443} y={248}>Alkenone SST (°C)</VText>
      <VText x={466} y={248}>core GeoB3313-1</VText>

      {/* B */}
      <path d={linePath(feRaw, xL, yB)} fill="none" stroke={GRAY} strokeWidth={1} />
      <path d={linePath(zip(feKa, feVal), xL, yB)} fill="none" stroke="#000" strokeWidth={1.3} />
      <VAxis x={axLL} side="left" y={yB} lo={5000} hi={6250} step={125} major={feMajor} labels={feLabels} />
      <text x={317} y={316} textAnchor="middle" dominantBaseline="central" fontSize={18}>B</text>
      <VText x={23} y={387}>Iror intensity (cps)</VText>
      <VText x={46} y={392}>core GeoB3313-1</VText>

      {/* C */}
      <line x1={140} x2={axLR} y1={yC(0)} y2={yC(0)} stroke="#444" strokeWidth={1} strokeDasharray="6,5" />
      <path d={linePath(npiCRaw, xL, yC)} fill="none" stroke={GRAY} strokeWidth={1} />
      <path d={linePath(zip(npiCKa, npiCVal), xL, yC, d3.curveMonotoneX)} fill="none" stroke="#000" strokeWidth={1.3} />
      <VAxis x={axLR} side="right" y={yC} lo={-2} hi={2} step={0.5} major={npiMajor} labels={npiLabels} />
      <text x={317} y={533} textAnchor="middle" dominantBaseline="central" fontSize={18}>C</text>
      <VText x={431} y={591}>z score Lago Cipreses NPI</VText>
      <Arrow x={449} y1={690} y2={500} />
      <VText x={466} y={520}>Relatively open</VText>
      <VText x={489} y={498}>forest</VText>
      <VText x={466} y={662}>Closed-canopy</VText>
      <VText x={489} y={677}>forest</VText>

      {/* D */}
      <line x1={138} x2={378} y1={yD(0)} y2={yD(0)} stroke="#444" strokeWidth={1} strokeDasharray="6,5" />
      <path d={linePath(npiDRaw, xL, yD)} fill="none" stroke={GRAY} strokeWidth={1} />
      <path d={linePath(zip(npiDKa, npiDVal), xL, yD, d3.curveMonotoneX)} fill="none" stroke="#000" strokeWidth={1.3} />
      <VAxis x={axLL} side="left" y={yD} lo={-2} hi={2} step={0.5} major={npiMajor} labels={npiLabels} />
      <text x={317} y={704} textAnchor="middle" dominantBaseline="central" fontSize={18}>D</text>
      <VText x={72} y={779}>z score Guanaco NPI</VText>
      <Arrow x={55} y1={868} y2={686} />
      <VText x={38} y={692}>Steppe</VText>
      <VText x={38} y={865}>Forest</VText>

      {/* E */}
      <path d={linePath(zip(samKa, samVal), xL, yE)} fill="none" stroke="#000" strokeWidth={1.6} />
      <VAxis x={axLR} side="right" y={yE} lo={-4} hi={1} step={0.5} major={samMajor} labels={samLabels} />
      <text x={317} y={868} textAnchor="middle" dominantBaseline="central" fontSize={18}>E</text>
      <VText x={430} y={932}>SAM-Marshall 30-yr spline</VText>

      {/* ================= RIGHT PANEL ================= */}
      <Frame xs={xR} axL={axRL} err1={1241} err2={1263} lcTitleX={553} samArrowX={881} samTextX={901} />

      {/* F */}
      <path d={linePath(d18Raw, xR, yF)} fill="none" stroke={GRAY} strokeWidth={1.1} />
      <path d={linePath(zip(d18Ka, d18Val), xR, yF)} fill="none" stroke="#000" strokeWidth={1.2} />
      <VAxis x={axRR} side="right" y={yF} lo={-4.5} hi={-2.5} step={0.25} major={d18Major} labels={d18Labels} />
      <text x={806} y={158} textAnchor="middle" dominantBaseline="central" fontSize={18}>F</text>
      <VText x={942} y={250}>
        {'\u03b4'}
        <tspan dy={-7} fontSize={12}>18</tspan>
        <tspan dy={7}>O CC3</tspan>
      </VText>

      {/* G */}
      <path d={linePath(hemPts, xR, yG)} fill="none" stroke="#000" strokeWidth={1.2} />
      {hemPts.map((d, i) => <circle key={'g' + i} cx={xR(d[0])} cy={yG(d[1])} r={1.7} fill="#000" />)}
      <VAxis x={axRL} side="left" y={yG} lo={-6} hi={8} step={2} major={hemMajor} labels={hemLabels} />
      <text x={806} y={302} textAnchor="middle" dominantBaseline="central" fontSize={18}>G</text>
      <VText x={537} y={388}>% Hematite-stained</VText>
      <VText x={560} y={399}>grains (MC52-VM29-191)</VText>

      {/* H */}
      <path d={linePath(siltPts, xR, yH)} fill="none" stroke="#000" strokeWidth={1.2} />
      {siltPts.map((d, i) => <circle key={'h' + i} cx={xR(d[0])} cy={yH(d[1])} r={1.5} fill="#000" />)}
      <VAxis x={axRR} side="right" y={yH} lo={10.5} hi={15} step={0.5} major={siltMajor} labels={siltLabels} />
      <text x={806} y={533} textAnchor="middle" dominantBaseline="central" fontSize={18}>H</text>
      <VText x={929} y={597}>Sortable silt mean size</VText>
      <VText x={951} y={597}>(10-63 {'\u00b5'}m) NEAP-15 K</VText>

      {/* I+J */}
      <path d={linePath(co2Edc, xR, yIJ)} fill="none" stroke="#666" strokeWidth={1.1} />
      <path d={linePath(zip(co2LawKa, co2LawVal), xR, yIJ)} fill="none" stroke="#000" strokeWidth={1.2} />
      <VAxis x={axRL} side="left" y={yIJ} lo={260} hi={360} step={10} major={co2Major} labels={co2Labels} />
      <text x={806} y={723} textAnchor="middle" dominantBaseline="central" fontSize={18}>I+J</text>
      <VText x={549} y={765}>
        EDC + Law Dome CO
        <tspan dy={6} fontSize={12}>2</tspan>
        <tspan dy={-6}> (ppm)</tspan>
      </VText>

      {/* K */}
      <path d={linePath(edcRaw, xR, yK)} fill="none" stroke="#999" strokeWidth={1} />
      <path d={linePath(zip(edcKa, edcVal), xR, yK, d3.curveMonotoneX)} fill="none" stroke="#000" strokeWidth={1.3} />
      <VAxis x={axRR} side="right" y={yK} lo={-2} hi={3} step={0.5} major={edcMajor} labels={edcLabels} />
      <text x={806} y={868} textAnchor="middle" dominantBaseline="central" fontSize={18}>K</text>
      <VText x={929} y={917}>EDC temperature</VText>
      <VText x={951} y={920}>anomaly (°C)</VText>
    </svg>
  );
}
